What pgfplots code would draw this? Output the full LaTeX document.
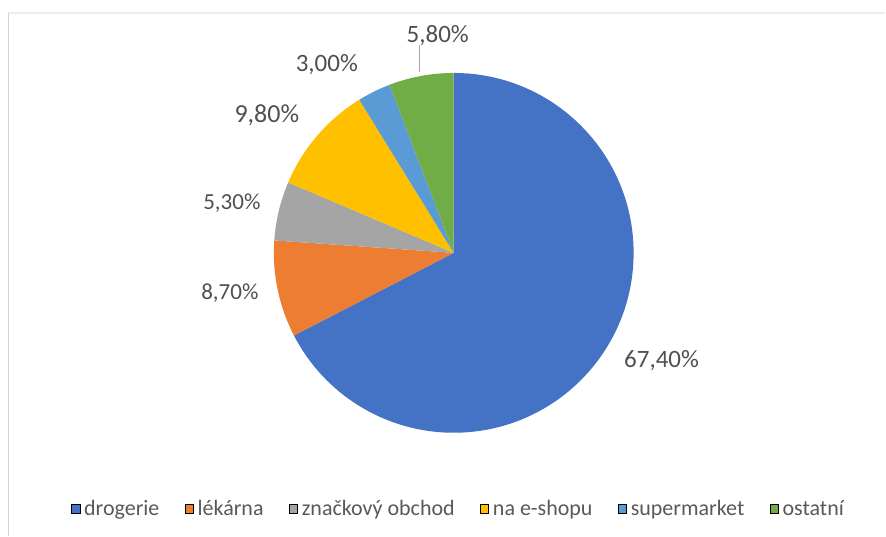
\documentclass[border=0pt]{standalone}
\usepackage{pgfplots}
\pgfplotsset{compat=1.18}
\usepackage{pgfplotstable}
\usepackage{fontspec}
\setmainfont{Carlito}
\definecolor{c0}{HTML}{4472C4}
\definecolor{c1}{HTML}{ED7D31}
\definecolor{c2}{HTML}{A5A5A5}
\definecolor{c3}{HTML}{FFC000}
\definecolor{c4}{HTML}{5B9BD5}
\definecolor{c5}{HTML}{70AD47}
\definecolor{lbl}{HTML}{505050}
\definecolor{legtext}{HTML}{595959}
\definecolor{frameL}{HTML}{D4D4D4}
\definecolor{frameT}{HTML}{ECECEC}

\pgfplotstableread[col sep=comma]{
idx,value
0,67.4
1,8.7
2,5.3
3,9.8
4,3.0
5,5.8
}\piedata

% cumulative angles, clockwise from 12 o'clock
\def\cum{90}
\pgfplotsforeachungrouped \i in {0,...,5}{%
  \pgfplotstablegetelem{\i}{value}\of\piedata
  \let\v\pgfplotsretval
  \pgfmathsetmacro\endang{\cum-3.6*\v}%
  \expandafter\xdef\csname sa\i\endcsname{\cum}%
  \expandafter\xdef\csname ea\i\endcsname{\endang}%
  \expandafter\xdef\csname val\i\endcsname{\v}%
  \xdef\cum{\endang}%
}

\newcommand{\pct}[1]{\pgfmathprintnumber[fixed,fixed zerofill,precision=2,use comma,assume math mode=true]{\csname val#1\endcsname}\%}

\begin{document}
\begin{tikzpicture}
\begin{axis}[
  x=0.75pt, y=0.75pt,
  xmin=0, xmax=886, ymin=0, ymax=536,
  hide axis, clip=false,
  legend columns=6,
  legend image code/.code={\fill[#1] (0pt,-3.1pt) rectangle (6.2pt,3.1pt); \path (7.6pt,0pt);},
  legend style={at={(axis cs:459,27)}, anchor=center, draw=none, fill=none,
    font=\fontsize{16.5}{18}\selectfont, text=legtext,
    nodes={inner xsep=1.6pt, inner ysep=1pt},
    /tikz/every even column/.append style={column sep=17.5pt}},
]
\path (axis cs:0,0) rectangle (axis cs:886,536);
\draw[frameT, line width=0.8pt] (axis cs:8.5,523) -- (axis cs:886,523);
\draw[frameL, line width=1.2pt] (axis cs:8.5,523) -- (axis cs:8.5,0);

\pgfplotsinvokeforeach{0,...,5}{%
  \fill[c#1] (axis cs:454,283) -- (axis cs:{454+180*cos(\csname sa#1\endcsname)},{283+180*sin(\csname sa#1\endcsname)})
     arc[start angle=\csname sa#1\endcsname, end angle=\csname ea#1\endcsname, radius=135pt] -- cycle;
}

\node[text=lbl, font=\fontsize{18.75}{20}\selectfont] at (axis cs:662,175) {\pct{0}};
\node[text=lbl, font=\fontsize{17.25}{19}\selectfont] at (axis cs:230,243) {\pct{1}};
\node[text=lbl, font=\fontsize{17.25}{19}\selectfont] at (axis cs:232,333) {\pct{2}};
\node[text=lbl, font=\fontsize{19.5}{21}\selectfont] at (axis cs:267,421) {\pct{3}};
\node[text=lbl, font=\fontsize{18.75}{20}\selectfont] at (axis cs:327,471) {\pct{4}};
\node[text=lbl, font=\fontsize{18.75}{20}\selectfont] at (axis cs:438,500) {\pct{5}};
\draw[gray!70, line width=0.7pt] (axis cs:420,491) -- (axis cs:420,464);

\addlegendimage{fill=c0}
\addlegendentry{drogerie}
\addlegendimage{fill=c1}
\addlegendentry{lékárna}
\addlegendimage{fill=c2}
\addlegendentry{značkový obchod}
\addlegendimage{fill=c3}
\addlegendentry{na e-shopu}
\addlegendimage{fill=c4}
\addlegendentry{supermarket}
\addlegendimage{fill=c5}
\addlegendentry{ostatní}
\end{axis}
\end{tikzpicture}
\end{document}
